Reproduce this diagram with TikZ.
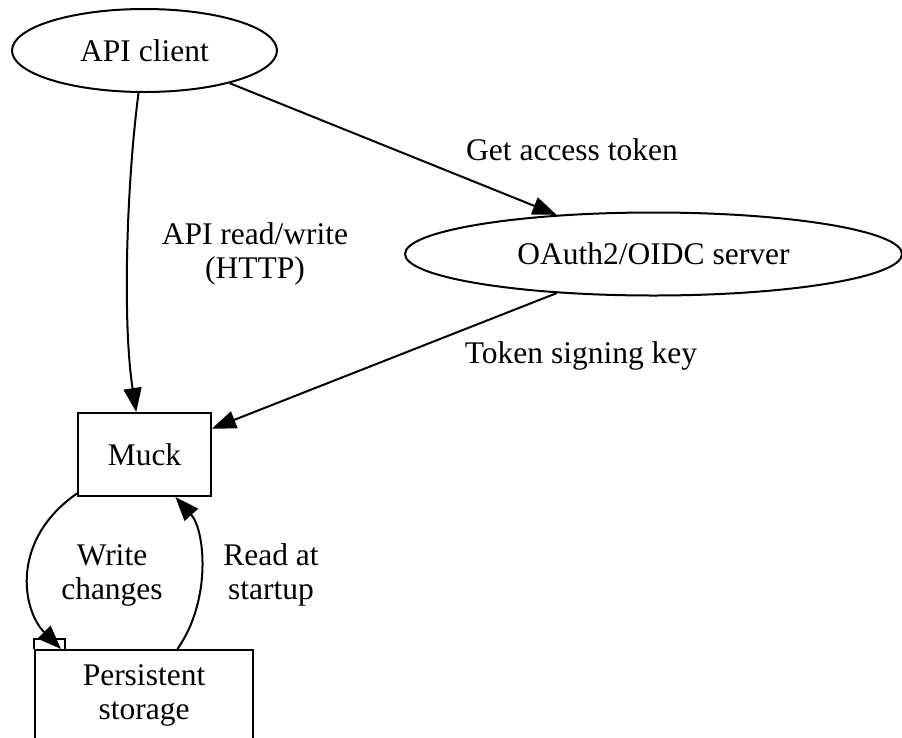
\documentclass[tikz,border=0pt]{standalone}
\usepackage{fontspec}
\setmainfont{Liberation Serif}
\usetikzlibrary{shapes.geometric}
\usetikzlibrary{arrows.meta}

\begin{document}
\begin{tikzpicture}[x=1pt, y=-1pt, line width=2pt,
  every node/.style={font=\fontsize{31.5}{34}\selectfont, align=center, inner sep=0pt},
  ell/.style={draw, ellipse, minimum width=#1, minimum height=83pt},
  box/.style={draw, rectangle, minimum width=#1},
  >={Triangle[length=24pt,width=18pt]}]

\useasboundingbox (0,0) rectangle (902,737);
\clip (0,0) rectangle (902,737);

% nodes
\node[ell=265pt] (api) at (144.5,50.5) {API client};
\node[ell=497pt] (oauth) at (653.5,254) {OAuth2/OIDC server};
\node[box=133pt, minimum height=83pt] (muck) at (144.5,454.5) {Muck};
\node[box=218pt, minimum height=90pt] (store) at (144,695) {Persistent\\storage};
% the little tab on the storage box
\draw (store.north west) -- ++(0,-10) -- ++(31,0) -- ++(0,10);

% edge labels
\node (lread) at (255,254) {API read/write\\(HTTP)};
\node (ltoken) at (572,150) {Get access token};
\node (lkey) at (581,356) {Token signing key};
\node (lwrite) at (112,575) {Write\\changes};
\node (lstart) at (271,575) {Read at\\startup};

% edges
\draw[->] (api.262) .. controls (127,180) and (122,320) .. (muck.101);
\draw[->] (api.339) -- (oauth.158);
\draw[->] (oauth.202) -- (muck.21);
\draw[->] (muck.210) .. controls (10,540) and (22,610) .. (store.151);
\draw[->] (store.54) .. controls (212,600) and (205,530) .. (muck.306);

\end{tikzpicture}
\end{document}
